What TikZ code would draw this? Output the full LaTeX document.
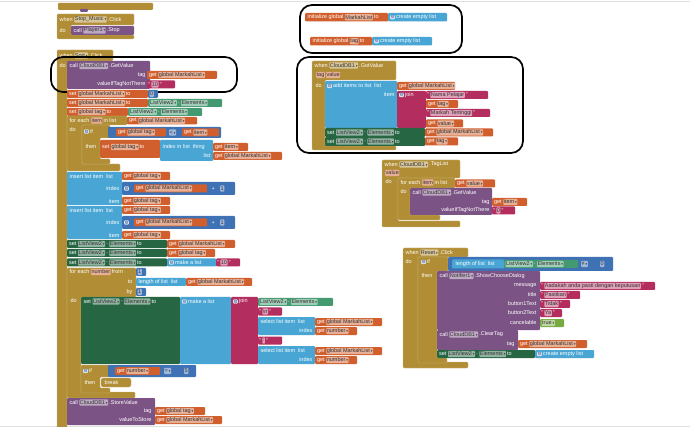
\documentclass[tikz,border=0pt]{standalone}
\usepackage{fontspec}
\setmainfont{Liberation Sans}
\newfontfamily\dvsym{DejaVu Sans}
\usetikzlibrary{positioning}

\definecolor{cEv}{RGB}{177,142,53}
\definecolor{cCall}{RGB}{124,83,133}
\definecolor{cVar}{RGB}{208,95,45}
\definecolor{cList}{RGB}{73,166,212}
\definecolor{cMath}{RGB}{63,113,181}
\definecolor{cText}{RGB}{179,45,94}
\definecolor{cSet}{RGB}{38,102,67}
\definecolor{cGet}{RGB}{67,153,112}
\definecolor{cLogic}{RGB}{119,171,65}

\newcommand\bfnt{\fontsize{5.5}{6}\selectfont}
\newcommand\dd{\,{\dvsym\fontsize{3.4}{3.4}\selectfont ▾}}

\tikzset{
  lbl/.style={inner sep=0.4pt, text=white, font=\bfnt, anchor=west},
  fld/.style={inner sep=0.5pt, rounded corners=0.8pt, text=black!80, font=\bfnt, anchor=west, minimum height=6.2pt},
  gear/.style={inner sep=0.3pt, rounded corners=0.8pt, fill=white!80!cMath, text=cMath!80!black, font={\dvsym\fontsize{4.6}{4.6}\selectfont}, anchor=west},
  ring/.style={draw=black, line width=1.7pt, rounded corners=12pt},
}

% text pieces, chained left to right
\newcounter{tc}
\newcommand\Lat[3]{\stepcounter{tc}\node[lbl,alias=last] (t\thetc) at (#1,#2) {#3};}
\newcommand\Rat[3]{\stepcounter{tc}\node[lbl,anchor=east,alias=last] (t\thetc) at (#1,#2) {#3};}
\newcommand\Lb[1]{\stepcounter{tc}\node[lbl,right=0.4pt of last,alias=last] (t\thetc) {#1};}
\newcommand\Fd[2]{\stepcounter{tc}\node[fld,fill=#1!50!white,right=0.8pt of last,alias=last] (t\thetc) {#2\dd};}
\newcommand\Fp[2]{\stepcounter{tc}\node[fld,fill=#1!50!white,right=0.8pt of last,alias=last] (t\thetc) {#2};}
\newcommand\Fat[4]{\stepcounter{tc}\node[fld,fill=#1!50!white,alias=last] (t\thetc) at (#2,#3) {#4};}
\newcommand\Sq[1]{\stepcounter{tc}\node[fld,fill=cText!45!white,right=0.4pt of last,alias=last] (t\thetc) {#1};}
\newcommand\Gat[2]{\stepcounter{tc}\node[gear,alias=last] (t\thetc) at (#1,#2) {⚙};}

% block shapes
\newcommand\Blk[5]{\fill[#5,rounded corners=1pt] (#1,#2) rectangle (#3,#4);}
\newcommand\Cb[8]{\filldraw[cEv,draw=cEv!60!white,line width=0.3pt,rounded corners=1pt] (#1,#2) -- (#3,#2) -- (#3,#4) -- (#5,#4) -- (#5,#6) -- (#7,#6) -- (#7,#8) -- (#1,#8) -- cycle;}
\newcommand\Getb[5]{\Blk{#1}{#2}{#3}{#4}{cVar}\Lat{#1+1.5}{{(#2+#4)/2}}{get}\Fd{cVar}{#5}}
\newcommand\Strb[5]{\Blk{#1}{#2}{#3}{#4}{cText}\Lat{#1+0.8}{{(#2+#4)/2}}{"}\Sq{#5}\Lb{"}}
\newcommand\Numb[5]{\Blk{#1}{#2}{#3}{#4}{cMath}\Fat{cMath}{#1+1.5}{{(#2+#4)/2}}{#5}}
\newcommand\SetV[6]{\Blk{#1}{#2}{#3}{#4}{cVar}\Lat{#1+1.5}{#5}{set}\Fd{cVar}{#6}\Lb{to}}
\newcommand\SetC[5]{\Blk{#1}{#2}{#3}{#4}{cSet}\Lat{#1+1.5}{#5}{set}\Fd{cSet}{ListView2}\Lb{.}\Fd{cSet}{Elements}\Lb{to}}
\newcommand\GetC[4]{\Blk{#1}{#2}{#3}{#4}{cGet}\Fat{cGet}{#1+1.5}{{(#2+#4)/2}}{ListView2\dd}\Lb{.}\Fd{cGet}{Elements}}
\newcommand\Ins[1]{%
  \Blk{67}{#1}{122}{#1+33}{cList}
  \Lat{69}{#1+4.5}{insert list item\ \ list}
  \Rat{120}{#1+16.5}{index}
  \Rat{120}{#1+29.5}{item}
  \Getb{122}{#1}{170}{#1+8}{global tag}
  \Blk{122}{#1+10}{235}{#1+23}{cMath}
  \Gat{124}{#1+16.5}
  \Getb{134}{#1+12.5}{207}{#1+20.5}{global MarkahList}
  \Lat{211}{#1+16.5}{+}
  \Fat{cMath}{220}{#1+16.5}{1}
  \Getb{122}{#1+25}{170}{#1+33}{global tag}}
\newcommand\Sel[1]{%
  \Blk{258}{#1}{315}{#1+18}{cList}
  \Lat{260}{#1+5}{select list item\ \ list}
  \Rat{313}{#1+14}{index}
  \Getb{315}{#1+1}{382}{#1+9}{global MarkahList}
  \Getb{315}{#1+10}{357}{#1+18}{number}}

\begin{document}
\begin{tikzpicture}[x=1pt,y=-1pt]
\useasboundingbox (0,0) rectangle (690,427);
\fill[white] (0,0) rectangle (690,427);
\draw[black!12,line width=1pt] (0,1.5) -- (690,1.5);
\draw[black!12,line width=1pt] (0,426) -- (690,426);

% remnant of a block above
\Blk{58}{3}{153}{10}{cEv}
\Blk{80}{9}{88}{12}{cCall}

% Stop_Music
\Cb{57}{14}{134}{25}{71}{35}{134}{39}
\Lat{59}{19.5}{when}\Fd{cEv}{Stop\_Music}\Lb{.Click}
\Lat{59}{30.5}{do}
\Blk{71}{26}{134}{35}{cCall}
\Lat{73}{30.5}{call}\Fd{cCall}{Player1}\Lb{.Stop}

% main click event
\Cb{57}{50}{113}{61}{67}{430}{90}{440}
\Lat{59}{55.5}{when}\Fd{cEv}{Sort}\Lb{.Click}
\Lat{59}{66}{do}
\Blk{67}{61}{150}{89}{cCall}
\Lat{69}{66}{call}\Fd{cCall}{CloudDB1}\Lb{.GetValue}
\Rat{146}{75}{tag}
\Rat{146}{84.5}{valueIfTagNotThere}
\Getb{147}{71}{217}{79}{global MarkahList}
\Strb{147}{80.5}{175}{88.5}{10}
\draw[ring] (51,57) rectangle (237,92);

\SetV{67}{90}{148}{98}{94}{global MarkahList}
\Numb{148}{90}{158}{98}{0}
\SetV{67}{99}{148}{107}{103}{global MarkahList}
\GetC{148}{99}{222}{107}
\SetV{67}{108}{128}{116}{112}{global tag}
\GetC{128}{108}{202}{116}

% for each item
\Cb{67}{116}{127}{125}{82}{164}{120}{171}
\Lat{69}{120.5}{for each}\Fp{cVar}{item}\Lb{in list}
\Getb{127}{117}{197}{124.5}{global MarkahList}
\Lat{69}{130}{do}
\Cb{82}{125}{110}{138}{100}{159}{110}{164}
\Gat{84}{131.5}\Lb{if}
\Blk{108}{127}{221}{138}{cMath}
\Getb{116}{128.5}{166}{136.5}{global tag}
\Fat{cMath}{169}{132.5}{<\dd}
\Getb{182}{128.5}{219}{136.5}{item}
\Lat{85}{147}{then}
\SetV{100}{140}{160}{158}{147}{global tag}
\Blk{160}{140}{213}{161}{cList}
\Lat{162}{147}{index in list\ \ thing}
\Rat{211}{156}{list}
\Getb{213}{143}{248}{151}{item}
\Getb{213}{152}{282}{160}{global MarkahList}

\Ins{172}
\Ins{206}

\SetC{67}{240}{167}{248}{244}
\Getb{167}{240}{235}{248}{global MarkahList}
\SetC{67}{249}{167}{257}{253}
\Getb{167}{249}{215}{257}{global tag}
\SetC{67}{258.5}{167}{266.5}{262.5}
\Blk{167}{258.5}{216}{266.5}{cList}
\Gat{169}{262.5}\Lb{make a list}
\Strb{216}{258.5}{240}{266.5}{10}

% for each number
\Cb{67}{268}{136}{297}{81}{392}{135}{398}
\Lat{69}{272}{for each}\Fp{cVar}{number}\Lb{from}
\Rat{133}{282}{to}
\Rat{133}{292}{by}
\Numb{136}{268}{146}{276}{1}
\Blk{136}{278}{186}{286}{cList}
\Lat{138}{282}{length of list\ \ list}
\Getb{186}{278}{252}{286}{global MarkahList}
\Numb{136}{288}{146}{296}{1}
\Lat{70}{301}{do}
\Blk{81}{297}{180}{364}{cSet}
\Lat{83}{301.5}{set}\Fd{cSet}{ListView2}\Lb{.}\Fd{cSet}{Elements}\Lb{to}
\Blk{180}{297}{231}{364}{cList}
\Gat{182}{301.5}\Lb{make a list}
\Blk{231}{297}{258}{364}{cText}
\Gat{233}{301.5}\Lb{join}
\GetC{258}{298}{333}{306}
\Strb{258}{307.5}{282}{315.5}{\textbackslash n}
\Sel{317}
\Strb{258}{336.5}{282}{344.5}{:}
\Sel{346}

\Cb{81}{365}{110}{377}{100}{388}{110}{393}
\Gat{83}{371}\Lb{if}
\Blk{108}{365}{196}{377}{cMath}
\Getb{115}{367}{160}{375}{number}
\Fat{cMath}{164}{371}{=\dd}
\Fat{cMath}{184}{371}{5}
\Lat{84}{382.5}{then}
\filldraw[cEv,draw=cEv!60!white,line width=0.3pt,rounded corners=2pt] (101,378) rectangle (131,387);
\Lat{104}{382.5}{break}

\Blk{67}{398}{155}{425}{cCall}
\Lat{69}{402.5}{call}\Fd{cCall}{CloudDB1}\Lb{.StoreValue}
\Rat{152}{411}{tag}
\Rat{152}{420}{valueToStore}
\Getb{155}{407}{205}{415}{global tag}
\Getb{155}{416}{222}{424}{global MarkahList}

% globals
\Blk{305}{13}{388}{21.5}{cVar}
\Lat{307}{17.25}{initialize global}\Fp{cVar}{MarkahList}\Lb{to}
\Blk{388}{13}{447}{21.5}{cList}
\Gat{390}{17.25}\Lb{create empty list}
\Blk{310}{37}{372}{45.5}{cVar}
\Lat{312}{41.25}{initialize global}\Fp{cVar}{tag}\Lb{to}
\Blk{372}{37}{432}{45.5}{cList}
\Gat{374}{41.25}\Lb{create empty list}
\draw[ring] (300,5) rectangle (462,53);

% GotValue
\Cb{312}{61}{396}{80}{325}{146}{396}{150}
\Lat{314}{65.5}{when}\Fd{cEv}{CloudDB1}\Lb{.GotValue}
\Fat{cVar}{316}{75}{tag}\Fp{cVar}{value}
\Lat{315}{86}{do}
\Blk{325}{81}{397}{128}{cList}
\Gat{327}{86}\Lb{add items to list\ \ list}
\Rat{395}{95}{item}
\Getb{397}{82}{455}{90}{global MarkahList}
\Blk{397}{91}{426}{128}{cText}
\Gat{399}{95}\Lb{join}
\Strb{426}{91}{488}{99}{Nama Pelajar}
\Getb{426}{100}{458}{108}{tag}
\Strb{426}{109}{490}{117}{Markah Tertinggi}
\Getb{426}{119.5}{463}{127.5}{value}
\SetC{325}{128}{425}{137}{132.5}
\Getb{425}{128.5}{493}{136.5}{global MarkahList}
\SetC{325}{137}{425}{146}{141.5}
\Getb{425}{137.5}{458}{145.5}{tag}
\draw[ring] (297,57) rectangle (523,153);

% TagList
\Cb{382}{160}{460}{178}{398}{221}{460}{227}
\Lat{384}{164.5}{when}\Fd{cEv}{CloudDB1}\Lb{.TagList}
\Fat{cVar}{385}{173}{value}
\Lat{385}{182}{do}
\Cb{398}{178}{455}{188}{410}{215}{440}{220}
\Lat{400}{182.5}{for each}\Fp{cVar}{item}\Lb{in list}
\Getb{455}{179.5}{495}{187.5}{value}
\Lat{400}{192}{do}
\Blk{410}{188}{492}{215}{cCall}
\Lat{412}{192.5}{call}\Fd{cCall}{CloudDB1}\Lb{.GetValue}
\Rat{490}{202}{tag}
\Rat{490}{210.5}{valueIfTagNotThere}
\Getb{492}{198}{527}{206}{item}
\Strb{492}{206.5}{515}{214.5}{0}

% Reset
\Cb{403}{248}{468}{257}{418}{362}{468}{368}
\Lat{405}{252.5}{when}\Fd{cEv}{Reset}\Lb{.Click}
\Lat{405}{262}{do}
\Cb{418}{257}{448}{271}{437}{358}{447}{363}
\Gat{421}{262}\Lb{if}
\Blk{448}{257}{613}{271}{cMath}
\Blk{452}{259.5}{504}{268.5}{cList}
\Lat{455}{264}{length of list\ \ list}
\GetC{504}{260}{578}{268}
\Fat{cMath}{581}{264}{≠\dd}
\Fat{cMath}{600}{264}{0}
\Lat{421}{276}{then}
\Blk{437}{271}{540}{330}{cCall}
\Lat{439}{276}{call}\Fd{cCall}{Notifier1}\Lb{.ShowChooseDialog}
\Rat{537}{286}{message}
\Rat{537}{295}{title}
\Rat{537}{304}{button1Text}
\Rat{537}{313}{button2Text}
\Rat{537}{323}{cancelable}
\Strb{540}{282}{655}{290}{Aadakah anda pasti dengan keputusan}
\Strb{540}{291}{580}{299}{Pastikan}
\Strb{540}{300}{570}{308}{Tidak}
\Strb{540}{309}{562}{317}{Ya}
\Blk{540}{319}{564}{327}{cLogic}
\Fat{cLogic}{541.5}{323}{true\dd}
\Blk{437}{330}{518}{350}{cCall}
\Lat{439}{334.5}{call}\Fd{cCall}{CloudDB1}\Lb{.ClearTag}
\Rat{515}{344}{tag}
\Getb{518}{340}{587}{348}{global MarkahList}
\SetC{437}{350}{535}{358}{354}
\Blk{535}{350}{594}{358}{cList}
\Gat{537}{354}\Lb{create empty list}
\end{tikzpicture}
\end{document}
